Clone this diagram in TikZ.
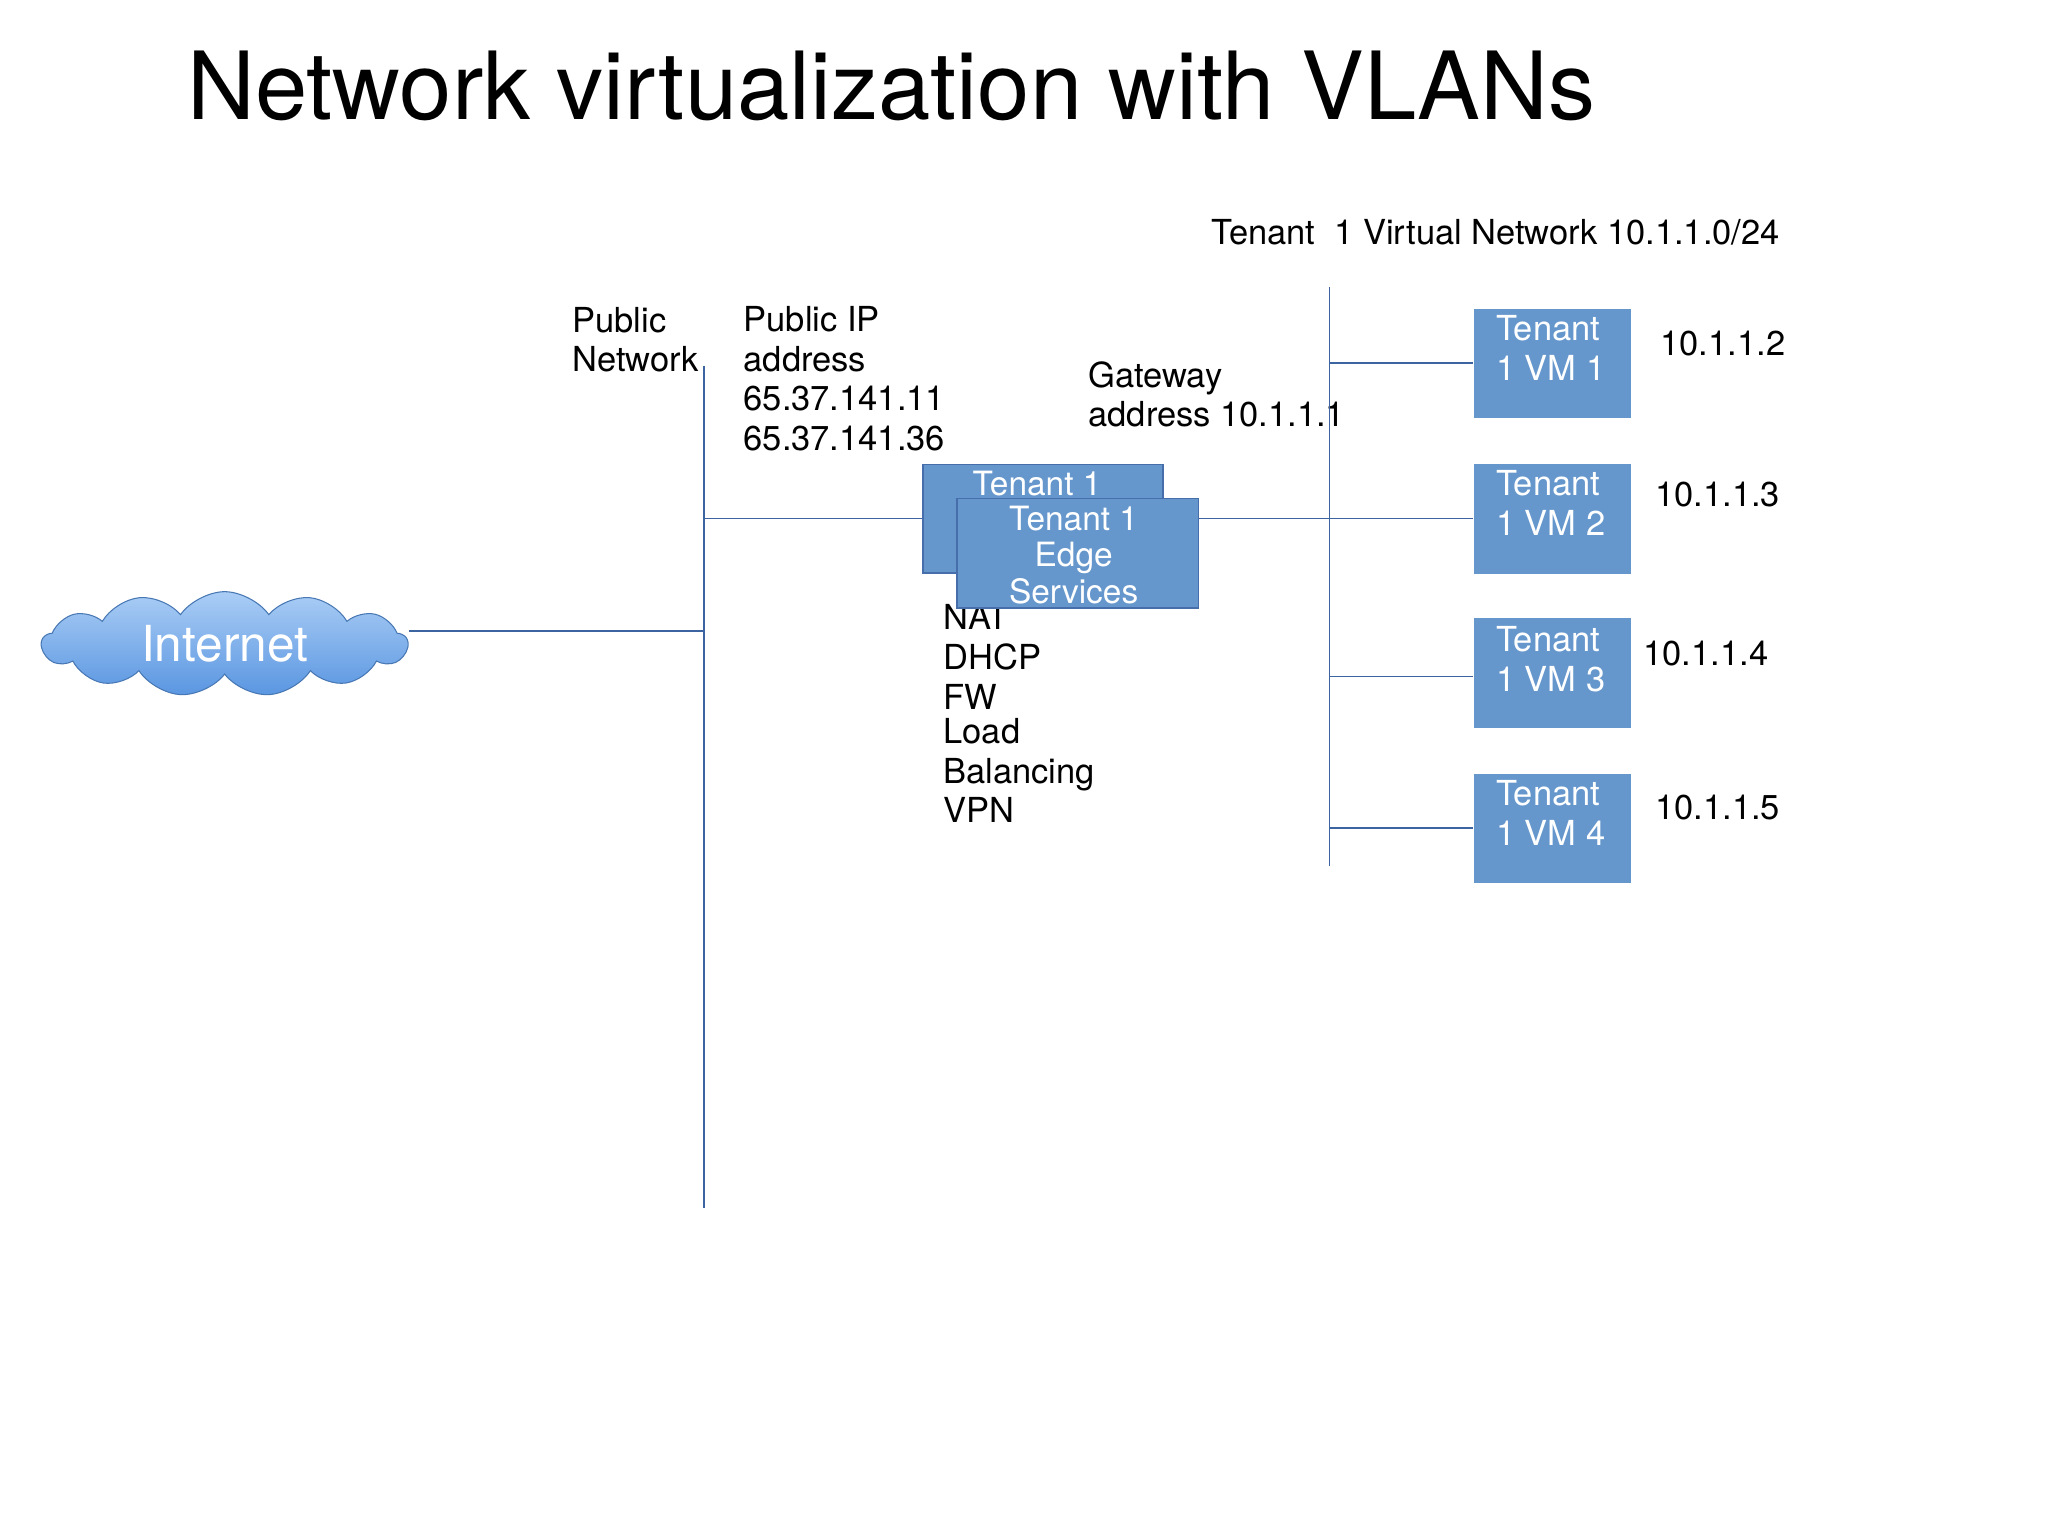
\documentclass[tikz,border=0pt]{standalone}
\usepackage{fontspec}
\setmainfont{TeX Gyre Heros}
\usetikzlibrary{shapes.symbols}
\definecolor{boxblue}{RGB}{101,151,205}
\definecolor{boxedge}{RGB}{70,110,170}
\definecolor{wire}{RGB}{60,100,160}
\definecolor{cloudtop}{RGB}{170,205,245}
\definecolor{cloudbot}{RGB}{90,150,225}
\tikzset{
  lbl/.style={anchor=west,inner sep=0pt,font=\fontsize{13.2}{15.2}\selectfont,align=left},
  vm/.style={fill=boxblue,draw=none,minimum width=60pt,minimum height=42pt,inner sep=0pt},
  vmlbl/.style={anchor=north west,inner sep=0pt,text=white,font=\fontsize{13.2}{15.2}\selectfont,align=left},
  edge/.style={fill=boxblue,draw=boxedge,line width=0.6pt,inner sep=0pt},
  edgelbl/.style={inner sep=0pt,text=white,font=\fontsize{12.8}{14}\selectfont,align=center},
  wire/.style={draw=wire,line width=0.6pt}
}
\begin{document}
\begin{tikzpicture}[x=0.5pt,y=0.5pt,yscale=-1]
\useasboundingbox (0,0) rectangle (1568,1176);
\fill[white] (0,0) rectangle (1568,1176);

% title
\node[anchor=west,inner sep=0pt,font=\fontsize{36}{40}\selectfont] (title) at (143,66) {Network virtualization with VLANs};
\node[lbl] (vnet) at (927,178) {Tenant\ \ 1 Virtual Network 10.1.1.0/24};

% public network bus
\coordinate (pubtop) at (539,280);
\coordinate (pubbot) at (539,925);
\coordinate (pubnet) at (539,483);
\coordinate (pubedge) at (539,397);
\draw[wire] (pubtop) -- (pubbot);
\node[lbl] (pubname) at (438,260) {Public\\Network};
\node[lbl] (pubip) at (569,290) {Public IP\\address\\65.37.141.11\\65.37.141.36};

% internet cloud
\node[cloud,cloud puffs=13,cloud puff arc=110,aspect=3.6,minimum width=140pt,minimum height=40pt,
  inner sep=0pt,top color=cloudtop,bottom color=cloudbot,draw=cloudbot!80!black,line width=0.4pt,
  text=white,font=\fontsize{19}{22}\selectfont] (inet) at (172,493) {Internet};
\draw[wire] (inet.east |- pubnet) -- (pubnet);

% services list (partly hidden by the edge box)
\node[lbl] (svc1) at (722,503) {NAT\\DHCP\\FW};
\node[lbl] (svc2) at (722,590) {Load\\Balancing\\VPN};

% edge boxes
\node[edge,minimum width=92pt,minimum height=41.5pt,anchor=north west] (edgeback) at (706,355) {};
\node[edgelbl,anchor=north] (edgebacklbl) at (794,360) {Tenant 1};
\node[edge,minimum width=92.5pt,minimum height=42pt,anchor=north west] (edgefront) at (732,381) {};
\node[edgelbl] (edgefrontlbl) at (822,425) {Tenant 1\\Edge\\Services};
\draw[wire] (pubedge) -- (edgeback.west |- pubedge);

\node[lbl] (gw) at (833,302) {Gateway\\address 10.1.1.1};

% tenant bus
\coordinate (ttop) at (1018,220);
\coordinate (tbot) at (1018,663);
\draw[wire] (ttop) -- (tbot);

% VMs
\node[vm,anchor=north west] (vm1) at (1128,236) {};
\node[vm,anchor=north west] (vm2) at (1128,355) {};
\node[vm,anchor=north west] (vm3) at (1128,473) {};
\node[vm,anchor=north west] (vm4) at (1128,592) {};
\node[vmlbl] (vm1lbl) at (1145,241) {Tenant\\1 VM 1};
\node[vmlbl] (vm2lbl) at (1145,360) {Tenant\\1 VM 2};
\node[vmlbl] (vm3lbl) at (1145,479) {Tenant\\1 VM 3};
\node[vmlbl] (vm4lbl) at (1145,597) {Tenant\\1 VM 4};

\coordinate (t1) at (1018,278);
\coordinate (t3) at (1018,518);
\coordinate (t4) at (1018,634);
\draw[wire] (t1) -- (vm1.west |- t1);
\draw[wire] (edgefront.east |- pubedge) -- (vm2.west |- pubedge);
\draw[wire] (t3) -- (vm3.west |- t3);
\draw[wire] (t4) -- (vm4.west |- t4);

\node[lbl] (ip2) at (1271,263) {10.1.1.2};
\node[lbl] (ip3) at (1267,379) {10.1.1.3};
\node[lbl] (ip4) at (1258,500) {10.1.1.4};
\node[lbl] (ip5) at (1267,618) {10.1.1.5};
\end{tikzpicture}
\end{document}
